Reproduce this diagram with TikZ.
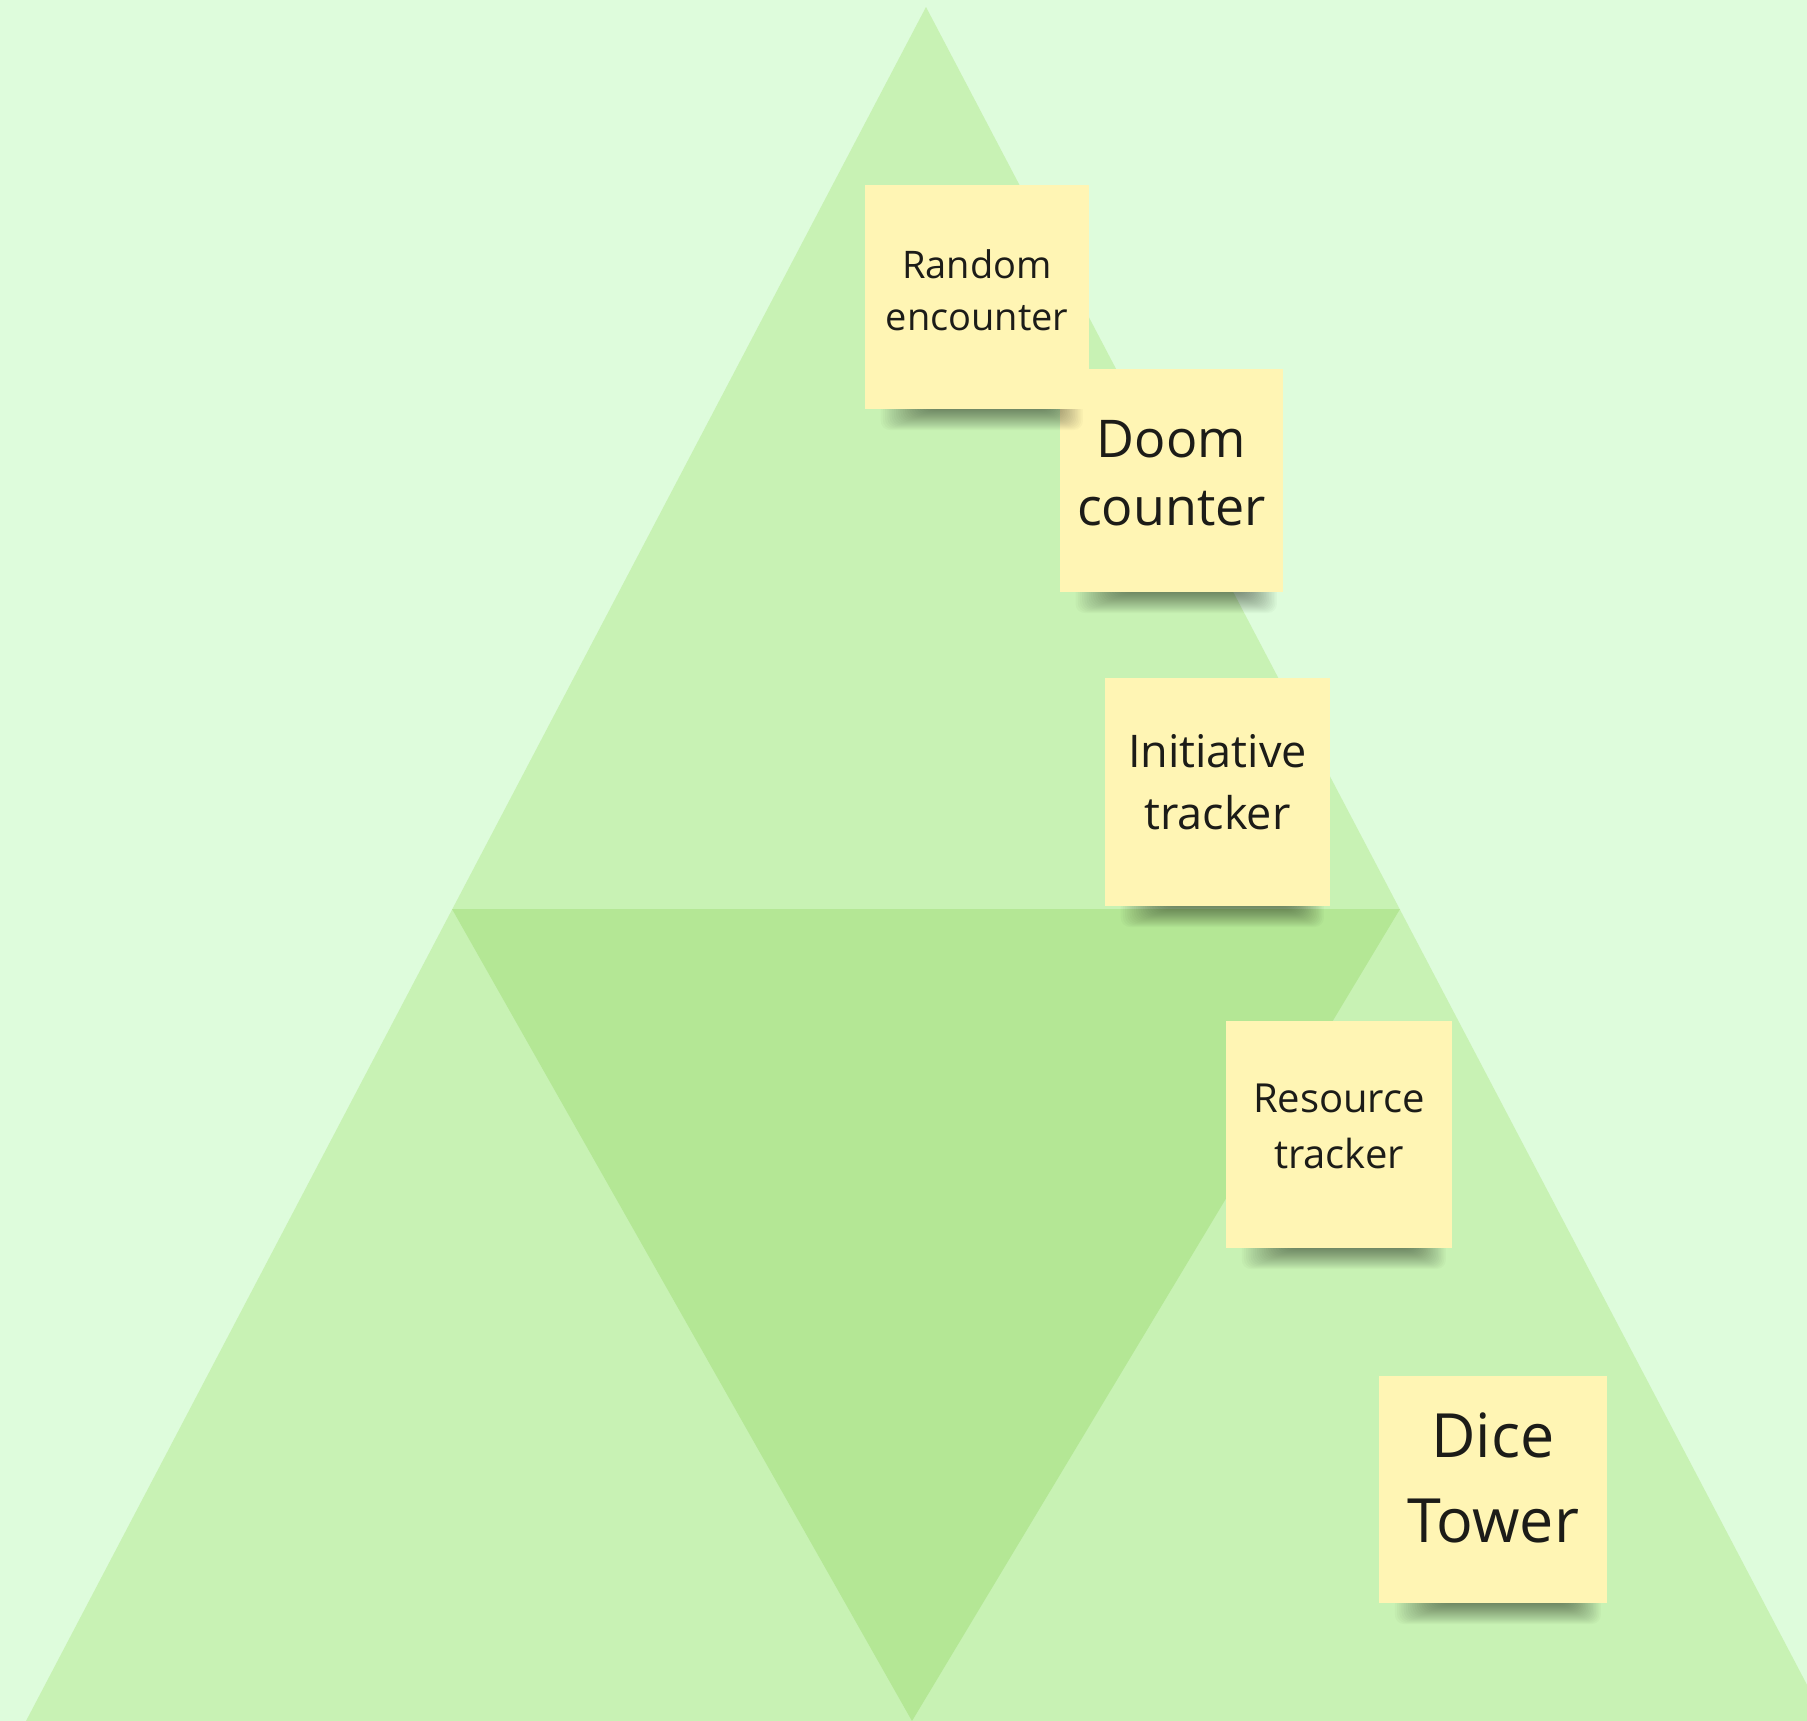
\documentclass[tikz,border=0pt]{standalone}
\usepackage{fontspec}
\setmainfont{Open Sans}
\definecolor{bgmint}{RGB}{222,252,220}
\definecolor{trilight}{RGB}{200,242,180}
\definecolor{tridark}{RGB}{180,231,149}
\definecolor{notefill}{RGB}{255,245,180}
\definecolor{noteink}{RGB}{28,28,24}
% soft curled-paper shadow under the bottom edge of a note: #1 = left x, #2 = right x, #3 = bottom y
\newcommand\noteshadow[3]{%
  \foreach \k in {1,...,22}{
    \fill[black, opacity=0.022, rounded corners=9pt]
      ({#1+0.06*(#2-#1)+2.2*\k}, {#3-8}) rectangle ({#2-0.02*(#2-#1)-1.6*\k}, {#3+22-1.0*\k});
  }%
}
\tikzset{
  sticky/.style={rectangle, fill=notefill, inner sep=0pt, minimum width=224pt, minimum height=224pt},
  stickytext/.style={inner sep=0pt, align=center, text=noteink}
}
\begin{document}
\begin{tikzpicture}[x=1pt,y=-1pt]
  \useasboundingbox (0,0) rectangle (1807,1721);
  \fill[bgmint] (0,0) rectangle (1807,1721);
  \clip (0,0) rectangle (1807,1721);

  % the large triangle and its darker inverted middle part
  \fill[trilight] (926,7) -- (26,1721) -- (1826,1721) -- cycle;
  \fill[tridark] (452,909) -- (1400,909) -- (912,1721) -- cycle;

  % Doom counter
  \noteshadow{1060}{1283}{592}
  \node[sticky, minimum width=223pt, minimum height=223pt] (doom) at (1171.5,480.5) {};
  \node[stickytext, font=\fontsize{52}{68}\selectfont] (doomtext) at (1171.5,473.5) {Doom\\counter};

  % Random encounter
  \noteshadow{865}{1089}{409}
  \node[sticky] (random) at (977,297) {};
  \node[stickytext, font=\fontsize{38}{52}\selectfont] (randomtext) at (977,290) {Random\\encounter};

  % Initiative tracker
  \noteshadow{1105}{1330}{906}
  \node[sticky, minimum width=225pt, minimum height=228pt] (init) at (1217.5,792) {};
  \node[stickytext, font=\fontsize{45}{62}\selectfont] (inittext) at (1217.5,782) {Initiative\\tracker};

  % Resource tracker
  \noteshadow{1226}{1452}{1248}
  \node[sticky, minimum width=226pt, minimum height=227pt] (resource) at (1339,1134.5) {};
  \node[stickytext, font=\fontsize{40}{56}\selectfont] (resourcetext) at (1339,1126) {Resource\\tracker};

  % Dice Tower
  \noteshadow{1379}{1607}{1603}
  \node[sticky, minimum width=228pt, minimum height=227pt] (dice) at (1493,1489.5) {};
  \node[stickytext, font=\fontsize{61}{85}\selectfont] (dicetext) at (1493,1477.5) {Dice\\Tower};
\end{tikzpicture}
\end{document}
